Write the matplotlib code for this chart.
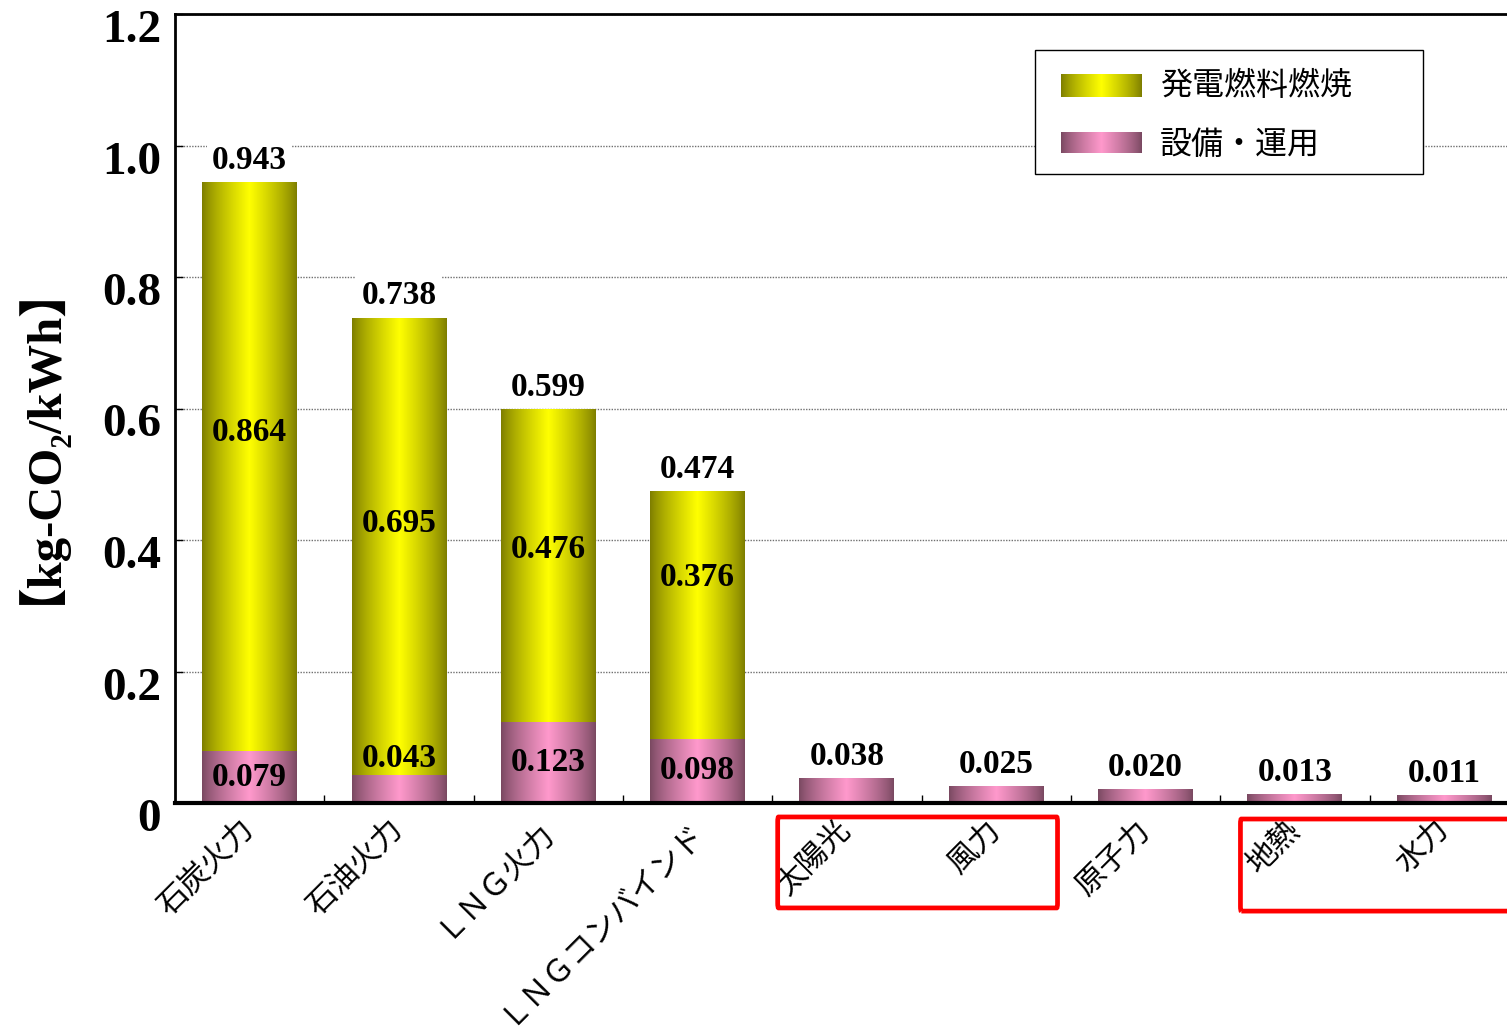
import numpy as np
import matplotlib
matplotlib.use('Agg')
import matplotlib.pyplot as plt
from matplotlib.patches import Rectangle, FancyBboxPatch
from matplotlib.transforms import blended_transform_factory, ScaledTranslation

# data
categories = ['石炭火力', '石油火力', 'ＬＮＧ火力', 'ＬＮＧコンバインド',
              '太陽光', '風力', '原子力', '地熱', '水力']
fuel = [0.864, 0.695, 0.476, 0.376, 0, 0, 0, 0, 0]
facility = [0.079, 0.043, 0.123, 0.098, 0.038, 0.025, 0.020, 0.013, 0.011]
totals = [0.943, 0.738, 0.599, 0.474, 0.038, 0.025, 0.020, 0.013, 0.011]
yticks = [0, 0.2, 0.4, 0.6, 0.8, 1.0, 1.2]
ytick_labels = ['0', '0.2', '0.4', '0.6', '0.8', '1.0', '1.2']
legend_labels = ['発電燃料燃焼', '設備・運用']
ylabel = '【kg-CO₂/kWh】'

# where the fuel label sits inside the yellow part (fraction of segment)
fuel_label_frac = [0.56, 0.55, 0.55, 0.65]

SERIF = ['Liberation Serif', 'Noto Sans CJK JP', 'DejaVu Serif']
JP = ['Noto Sans CJK JP', 'DejaVu Sans']

yellow = (np.array([0x7c, 0x7c, 0x00]) / 255, np.array([0xff, 0xff, 0x00]) / 255)
pink = (np.array([0x78, 0x48, 0x60]) / 255, np.array([0xff, 0x99, 0xcc]) / 255)


def gradient(colors, n=200):
    edge, center = colors
    t = np.linspace(-1, 1, n)
    f = (1 - np.abs(t)) ** 0.8
    return (edge[None, :] + (center - edge)[None, :] * f[:, None])[None, :, :]


fig = plt.figure(figsize=(15.07, 10.31), dpi=100)
ax = fig.add_axes([175 / 1507, 1 - 803 / 1031, 1332 / 1507, 789 / 1031])

x = np.arange(len(categories))
width = 0.636
xlim = (-0.5, 8.42)
ylim = (0, 1.2)

bars_fac = ax.bar(x, facility, width, color='none', lw=0)
bars_fuel = ax.bar(x, fuel, width, bottom=facility, color='none', lw=0)

for bars, cols in ((bars_fac, pink), (bars_fuel, yellow)):
    img = gradient(cols)
    for b in bars:
        if b.get_height() <= 0:
            continue
        x0, y0 = b.get_x(), b.get_y()
        ax.imshow(img, extent=[x0, x0 + b.get_width(), y0, y0 + b.get_height()],
                  aspect='auto', interpolation='bilinear', zorder=2)

ax.set_xlim(*xlim)
ax.set_ylim(*ylim)
ax.set_aspect('auto')

# value labels
lab_kw = dict(ha='center', va='center', fontfamily=SERIF, fontweight='bold',
              fontsize=24, zorder=4)
for i, v in enumerate(totals):
    ax.annotate(f'{v:.3f}', (x[i], v), xytext=(0, 22), textcoords='offset pixels',
                bbox=dict(boxstyle='square,pad=0.15', fc='white', ec='none'), **lab_kw)
for i, frac in enumerate(fuel_label_frac):
    ax.text(x[i], facility[i] + fuel[i] * frac, f'{fuel[i]:.3f}', **lab_kw)
    fy = facility[i] / 2 if facility[i] > 0.06 else facility[i] + 0.025
    ax.text(x[i], fy, f'{facility[i]:.3f}', **lab_kw)

# axes styling
ax.set_yticks(yticks)
ax.set_yticklabels(ytick_labels, fontfamily=SERIF, fontweight='bold', fontsize=34)
ax.tick_params(axis='y', direction='in', length=6, width=1, pad=10)
shift = ScaledTranslation(0, -0.12, fig.dpi_scale_trans)
for lab in ax.get_yticklabels():
    lab.set_transform(lab.get_transform() + shift)
ax.set_xticks(x)
ax.set_xticklabels(categories, fontfamily=JP, fontsize=22, rotation=45,
                   ha='right', va='center', rotation_mode='anchor')
ax.tick_params(axis='x', which='major', length=0, pad=16)
ax.set_xticks(np.arange(0.5, 8.5, 1), minor=True)
ax.tick_params(axis='x', which='minor', direction='in', length=6, width=1)

ax.yaxis.grid(True, color='#707070', lw=1, ls=(0, (1, 1)))
ax.set_axisbelow(True)
ax.spines['right'].set_visible(False)
ax.spines['left'].set_linewidth(2)
ax.spines['top'].set_linewidth(2)
ax.spines['bottom'].set_linewidth(3)

fig.text(14 / 1507, 1 - 420 / 1031, ylabel, rotation=90, ha='center', va='center',
         fontfamily=SERIF, fontweight='bold', fontsize=35)

# legend drawn by hand (gradient swatches)
ta = ax.transAxes
ax.add_patch(Rectangle((0.6456, 0.7972), 0.2913, 0.1572, transform=ta,
                       fc='white', ec='black', lw=1, zorder=5))
swatches = [(yellow, 0.8948, 0.9227, 0.9087), (pink, 0.8238, 0.8504, 0.834)]
for (cols, yb, yt, ty), lab in zip(swatches, legend_labels):
    ax.imshow(gradient(cols), extent=[0.6652, 0.7260, yb, yt], transform=ta,
              aspect='auto', interpolation='bilinear', zorder=6)
    ax.text(0.7395, ty, lab, transform=ta, ha='left', va='center',
            fontfamily=JP, fontsize=23, zorder=6)
ax.set_xlim(*xlim)
ax.set_ylim(*ylim)

# red highlight boxes under renewable categories
bt = blended_transform_factory(ax.transData, ax.transAxes)
for left, right, top, bottom in ((x[4] - 0.464, x[5] + 0.41, -0.0177, -0.133),
                                 (x[7] - 0.365, x[8] + 0.6, -0.0203, -0.137)):
    ax.add_patch(FancyBboxPatch((left, bottom), right - left, top - bottom,
                                boxstyle='round,pad=0,rounding_size=0.006',
                                transform=bt, fc='none', ec='red', lw=3.4,
                                clip_on=False, zorder=5))

fig.savefig('out.png', dpi=100)
